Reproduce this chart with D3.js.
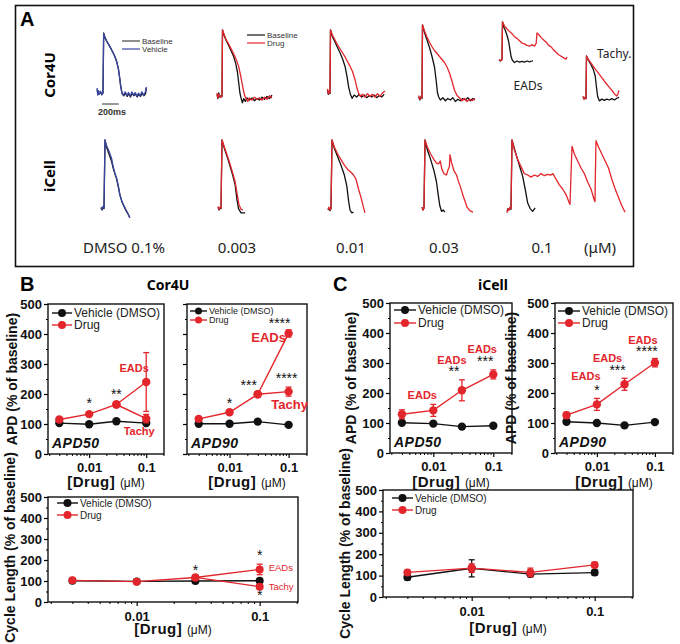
<!DOCTYPE html>
<html><head><meta charset="utf-8">
<script src="https://cdn.jsdelivr.net/npm/d3@7"></script>
<style>body{margin:0;background:#fff}svg{display:block}</style>
</head><body>
<svg id="fig" width="680" height="644"></svg>
<script>
// ---------------- DATA ----------------
const concentrations = [0.003, 0.01, 0.03, 0.1];
const xMajorTicks = [0.01, 0.1];
const yTicks = [0, 100, 200, 300, 400, 500];
const panelAConcLabels = ["DMSO 0.1%", "0.003", "0.01", "0.03", "0.1", "(\u03bcM)"];

// Panel B  (Cor4U)
const b50Vehicle = [103, 99, 109, 103];
const b50VehicleErr = [4, 3, 4, 4];
const b50Drug = [115, 133, 165];
const b50DrugErr = [6, 5, 8];
const b50EADs = [240, 98];
const b50Tachy = [118, 14];

const b90Vehicle = [101, 101, 108, 97];
const b90VehicleErr = [4, 4, 4, 4];
const b90Drug = [117, 139, 199];
const b90DrugErr = [6, 6, 8];
const b90EADs = [402, 12];
const b90Tachy = [208, 15];

const bCLVehicle = [101, 98, 100, 101];
const bCLVehicleErr = [5, 3, 5, 5];
const bCLDrug = [103, 97, 117];
const bCLDrugErr = [5, 4, 8];
const bCLEADs = [155, 25];
const bCLTachy = [73, 10];

// Panel C  (iCell)
const c50Vehicle = [101, 98, 88, 91];
const c50VehicleErr = [4, 4, 4, 4];
const c50Drug = [129, 142, 209, 262];
const c50DrugErr = [15, 20, 35, 15];

const c90Vehicle = [104, 100, 92, 103];
const c90VehicleErr = [4, 4, 4, 4];
const c90Drug = [126, 162, 229, 301];
const c90DrugErr = [10, 20, 20, 14];

const cCLVehicle = [92, 134, 107, 114];
const cCLVehicleErr = [12, 40, 12, 12];
const cCLDrug = [115, 135, 115, 150];
const cCLDrugErr = [7, 20, 20, 12];

// Panel A traces: [time ms, % amplitude]
const cor4uDmsoBaseline = [[-70,12],[-62,4],[-55,9],[-45,5],[-30,8],[-15,4],[0,6],[8,100],[25,92],[50,86],[80,79],[110,72],[140,64],[165,55],[185,44],[200,30],[215,15],[230,5],[250,2],[270,6],[290,1],[310,5],[330,0],[350,6],[370,2],[390,5],[410,0],[430,4],[450,1],[470,6],[490,2],[510,5],[520,14]];
const cor4uDmsoVehicle = [[-70,14],[-63,3],[-54,10],[-44,4],[-30,9],[-14,3],[0,7],[8,99],[22,94],[45,87],[75,81],[105,73],[135,66],[160,57],[182,46],[198,32],[212,17],[228,6],[246,3],[266,8],[286,2],[306,7],[326,1],[346,8],[366,3],[386,7],[406,1],[426,6],[446,2],[466,8],[486,3],[506,7],[520,16]];
const cor4u003Baseline = [[-60,8],[-50,2],[-40,10],[-25,4],[-10,6],[0,5],[6,100],[25,92],[50,85],[80,78],[110,70],[140,62],[165,52],[185,40],[200,25],[215,10],[230,2],[245,-4],[260,2],[280,-2],[300,3],[330,0],[360,3],[390,-1],[420,2],[450,0],[480,4],[510,1],[540,5],[570,2],[600,7]];
const cor4u003Drug = [[-60,10],[-50,3],[-40,8],[-25,5],[-10,4],[0,6],[6,100],[25,94],[50,86],[80,80],[110,73],[140,66],[170,58],[200,48],[225,34],[250,18],[270,7],[290,2],[310,-2],[330,3],[360,0],[390,4],[420,1],[450,3],[480,0],[510,4],[540,1],[570,6],[600,3]];
const cor4u01Baseline = [[-30,10],[-20,4],[-10,8],[0,5],[6,100],[30,90],[60,82],[90,74],[120,66],[150,57],[180,46],[205,30],[225,14],[245,4],[265,-2],[290,3],[320,0],[350,4],[380,0],[410,3],[440,-1],[470,2],[500,0],[530,3],[560,-1],[590,2],[620,0],[650,4]];
const cor4u01Drug = [[-30,12],[-20,5],[-10,9],[0,6],[6,100],[30,92],[60,85],[90,78],[120,72],[150,66],[180,60],[210,53],[240,46],[270,38],[300,26],[325,13],[345,5],[365,1],[390,4],[420,0],[450,5],[480,1],[510,4],[540,0],[570,5],[600,1],[630,6],[660,9]];
const cor4u03Baseline = [[-40,4],[-25,0],[-10,5],[0,2],[6,100],[30,90],[60,80],[90,70],[120,58],[150,44],[170,26],[185,10],[200,4],[220,0],[250,3],[280,-1],[310,2],[340,0],[370,3],[400,-2],[430,1],[460,-1],[490,2],[520,0],[550,3],[580,-1],[610,2],[636,0]];
const cor4u03Drug = [[-40,6],[-25,1],[-10,4],[0,3],[6,100],[30,92],[60,84],[90,77],[120,71],[150,66],[180,62],[210,58],[240,54],[270,50],[300,44],[330,36],[360,25],[390,13],[420,6],[450,3],[480,-1],[510,2],[540,-2],[570,1],[600,-1],[636,2]];
const cor4u1Baseline = [[-36,2],[-20,0],[0,3],[6,100],[20,88],[40,78],[60,66],[80,50],[95,30],[110,10],[125,2],[150,-4],[180,0],[210,-3],[240,-1],[270,-3],[300,0],[330,-2],[360,0],[372,1]];
const cor4u1Drug = [[-36,4],[-20,1],[0,3],[6,100],[30,90],[60,82],[90,76],[120,70],[150,62],[180,58],[210,52],[240,46],[270,44],[300,40],[330,38],[360,42],[390,38],[410,45],[420,72],[440,68],[470,60],[500,54],[530,48],[560,40],[590,36],[620,28],[650,22],[680,16],[710,12],[740,8],[770,5],[780,10]];
const cor4uTachyBaseline = [[-36,8],[-24,2],[-12,6],[0,3],[6,100],[30,90],[60,80],[90,68],[110,55],[125,30],[140,8],[160,-2],[190,2],[220,-1],[250,2],[280,0],[310,3],[340,0],[370,4],[396,6]];
const cor4uTachyDrug = [[-36,8],[-24,2],[-12,6],[0,3],[6,100],[30,92],[60,84],[90,76],[120,68],[150,61],[180,53],[210,46],[240,38],[270,31],[300,24],[330,17],[350,12],[370,9],[385,15],[396,22]];

const icellDmsoBaseline = [[-36,3],[-24,0],[-12,4],[0,2],[12,100],[30,90],[60,80],[90,70],[110,60],[130,52],[150,45],[170,34],[190,22],[215,12],[240,5],[265,-1],[290,-6],[310,-11]];
const icellDmsoVehicle = [[-36,4],[-24,1],[-12,5],[0,3],[12,100],[30,92],[60,84],[90,74],[110,62],[130,53],[150,46],[170,36],[190,22],[215,12],[240,6],[265,0],[290,-6],[310,-11]];
const icell003Baseline = [[-36,4],[-24,0],[-12,3],[0,2],[12,100],[40,88],[80,74],[110,62],[140,50],[170,36],[190,16],[210,2],[240,-4],[290,-4]];
const icell003Drug = [[-36,5],[-24,1],[-12,4],[0,3],[12,100],[40,90],[80,76],[110,65],[140,53],[170,40],[195,22],[215,8],[240,1],[265,0]];
const icell01Baseline = [[-36,0],[-24,3],[-12,-1],[0,2],[12,100],[40,88],[80,76],[120,64],[160,50],[190,34],[210,14],[228,0],[250,-4],[270,-3]];
const icell01Drug = [[-36,1],[-24,4],[-12,0],[0,3],[12,100],[40,90],[80,80],[120,72],[160,64],[200,58],[240,54],[270,50],[300,44],[330,30],[360,18],[385,6],[408,-4]];
const icell03Baseline = [[-24,4],[-12,0],[0,3],[12,100],[40,86],[80,72],[120,56],[150,40],[170,22],[190,6],[210,-2],[230,0],[250,-3]];
const icell03Drug = [[-24,4],[-12,0],[0,3],[12,100],[40,90],[80,80],[120,72],[150,67],[175,66],[195,70],[215,58],[240,52],[270,50],[290,58],[305,62],[312,79],[330,68],[360,56],[390,50],[408,43],[440,32],[470,20],[500,10],[516,4],[550,-1],[588,-3]];
const icell1Baseline = [[-48,-2],[-36,2],[-24,0],[-12,3],[0,1],[12,100],[40,88],[80,72],[110,60],[140,48],[170,30],[200,10],[230,2],[260,-2],[290,3]];
const icell1Drug = [[-48,-4],[-36,2],[-24,0],[-12,4],[0,2],[12,100],[40,86],[80,72],[120,62],[160,52],[200,50],[240,47],[280,50],[320,48],[360,52],[400,49],[440,51],[480,50],[504,52],[540,44],[580,36],[620,30],[660,22],[700,10],[708,8],[720,50],[732,91],[760,80],[800,70],[840,60],[880,52],[920,40],[960,30],[1000,14],[1008,12],[1014,60],[1020,99],[1050,90],[1090,80],[1130,70],[1170,60],[1210,44],[1250,30],[1290,18],[1330,6],[1368,-3]];

// ---------------- DRAW ----------------
const svg = d3.select("#fig");
const RED = "#e3262b", BLUE = "#3a47a3", BLACK = "#111";
const ARIAL = "'Liberation Sans', Arial, sans-serif";
const SANS = "'Noto Sans', 'Open Sans', sans-serif";

// ===== Panel A =====
svg.append("rect").attr("x", 15.5).attr("y", 5.5).attr("width", 618).attr("height", 261)
  .attr("fill", "none").attr("stroke", "#111").attr("stroke-width", 1.6);
svg.append("text").attr("x", 20).attr("y", 26).text("A")
  .attr("font-family", ARIAL).attr("font-weight", "bold").attr("font-size", 20);
[["Cor4U", 75], ["iCell", 176]].forEach(([t, cy]) => {
  svg.append("text").attr("transform", `translate(55,${cy}) rotate(-90)`).attr("text-anchor", "middle")
    .attr("font-family", SANS).attr("font-weight", "bold").attr("font-size", 15).text(t);
});
const concX = [124, 237, 351, 444, 542, 600];
panelAConcLabels.forEach((t, i) => {
  svg.append("text").attr("x", concX[i]).attr("y", 253).attr("text-anchor", "middle")
    .attr("font-family", SANS).attr("font-size", 15).attr("fill", "#222").text(t);
});

const msPerPx = 12;
function drawCell(x0, y0, amp, traces) {
  const xs = d3.scaleLinear().domain([0, msPerPx * 100]).range([x0, x0 + 100]);
  const ys = d3.scaleLinear().domain([0, 100]).range([y0, y0 - amp]);
  const line = d3.line().x(d => xs(d[0])).y(d => ys(d[1]));
  traces.forEach(([data, color]) => {
    svg.append("path").attr("d", line(data)).attr("fill", "none")
      .attr("stroke", color).attr("stroke-width", 1.3).attr("stroke-linejoin", "round");
  });
}
drawCell(103, 97, 64, [[cor4uDmsoBaseline, BLACK], [cor4uDmsoVehicle, BLUE]]);
drawCell(222, 100, 70, [[cor4u003Baseline, BLACK], [cor4u003Drug, RED]]);
drawCell(330, 97, 67, [[cor4u01Baseline, BLACK], [cor4u01Drug, RED]]);
drawCell(422, 100, 75, [[cor4u03Baseline, BLACK], [cor4u03Drug, RED]]);
drawCell(502, 61, 39, [[cor4u1Baseline, BLACK], [cor4u1Drug, RED]]);
drawCell(586, 100, 44, [[cor4uTachyBaseline, BLACK], [cor4uTachyDrug, RED]]);
drawCell(104, 210, 70, [[icellDmsoBaseline, BLACK], [icellDmsoVehicle, BLUE]]);
drawCell(221, 210, 70, [[icell003Baseline, BLACK], [icell003Drug, RED]]);
drawCell(331, 210, 70, [[icell01Baseline, BLACK], [icell01Drug, RED]]);
drawCell(424, 210, 70, [[icell03Baseline, BLACK], [icell03Drug, RED]]);
drawCell(511, 210, 70, [[icell1Baseline, BLACK], [icell1Drug, RED]]);

// trace legends
function traceLegend(x, y, labels, colors) {
  labels.forEach((t, i) => {
    svg.append("line").attr("x1", x).attr("x2", x + 18).attr("y1", y + i * 8).attr("y2", y + i * 8)
      .attr("stroke", colors[i]).attr("stroke-width", 1.2);
    svg.append("text").attr("x", x + 20).attr("y", y + i * 8 + 3).attr("font-family", ARIAL)
      .attr("font-size", 8).attr("fill", "#333").text(t);
  });
}
traceLegend(122, 41, ["Baseline", "Vehicle"], ["#444", BLUE]);
traceLegend(247, 35, ["Baseline", "Drug"], ["#111", RED]);
svg.append("line").attr("x1", 102).attr("x2", 102 + 200 / msPerPx).attr("y1", 104).attr("y2", 104)
  .attr("stroke", "#555").attr("stroke-width", 1.2);
svg.append("text").attr("x", 98).attr("y", 115).attr("font-family", ARIAL).attr("font-weight", "bold")
  .attr("font-size", 9).attr("fill", "#333").text("200ms");
svg.append("text").attr("x", 528).attr("y", 90).attr("text-anchor", "middle").attr("font-family", SANS)
  .attr("font-size", 12).attr("fill", "#222").text("EADs");
svg.append("text").attr("x", 597).attr("y", 58).attr("font-family", SANS)
  .attr("font-size", 12).attr("fill", "#222").text("Tachy.");

// ===== Panel headers B / C =====
svg.append("text").attr("x", 20).attr("y", 291).text("B").attr("font-family", ARIAL).attr("font-weight", "bold").attr("font-size", 20);
svg.append("text").attr("x", 333).attr("y", 291).text("C").attr("font-family", ARIAL).attr("font-weight", "bold").attr("font-size", 20);
svg.append("text").attr("x", 168).attr("y", 290).attr("text-anchor", "middle").text("Cor4U").attr("font-family", SANS).attr("font-weight", "bold").attr("font-size", 14);
svg.append("text").attr("x", 493).attr("y", 290).attr("text-anchor", "middle").text("iCell").attr("font-family", SANS).attr("font-weight", "bold").attr("font-size", 14);

// ===== Charts =====
const xDomain = [0.0019, 0.205];
const minorX = [0.002,0.003,0.004,0.005,0.006,0.007,0.008,0.009,0.02,0.03,0.04,0.05,0.06,0.07,0.08,0.09,0.2];

function drawChart(cfg) {
  const g = svg.append("g");
  const x = d3.scaleLog().domain(xDomain).range([cfg.left, cfg.right]);
  const y = d3.scaleLinear().domain([0, 500]).range([cfg.bottom, cfg.top]);
  g.append("rect").attr("x", cfg.left).attr("y", cfg.top).attr("width", cfg.right - cfg.left)
    .attr("height", cfg.bottom - cfg.top).attr("fill", "none").attr("stroke", "#111").attr("stroke-width", 1.4);
  const ya = g.append("g").attr("transform", `translate(${cfg.left},0)`)
    .call(d3.axisLeft(y).tickValues(yTicks).tickSize(4).tickPadding(2).tickFormat(cfg.yLabels ? d3.format("d") : ""));
  ya.select(".domain").remove();
  ya.selectAll("text").attr("font-family", ARIAL).attr("font-weight", "bold").attr("font-size", cfg.tickFont || 13).attr("fill", "#111");
  ya.selectAll("line").attr("stroke-width", 1.2);
  const yam = g.append("g").attr("transform", `translate(${cfg.left},0)`)
    .call(d3.axisLeft(y).tickValues(d3.range(50, 500, 100)).tickSize(2).tickFormat(""));
  yam.select(".domain").remove();
  const xa = g.append("g").attr("transform", `translate(0,${cfg.bottom})`)
    .call(d3.axisBottom(x).tickValues(xMajorTicks).tickSize(4).tickPadding(cfg.xPad || 5).tickFormat(d3.format("")));
  xa.select(".domain").remove();
  xa.selectAll("text").attr("font-family", ARIAL).attr("font-weight", "bold").attr("font-size", cfg.tickFont || 13).attr("fill", "#111");
  xa.selectAll("line").attr("stroke-width", 1.2);
  const xam = g.append("g").attr("transform", `translate(0,${cfg.bottom})`)
    .call(d3.axisBottom(x).tickValues(minorX).tickSize(2).tickFormat(""));
  xam.select(".domain").remove();
  const xt = g.append("text").attr("x", (cfg.left + cfg.right) / 2 + (cfg.xTitleDx || 0)).attr("y", cfg.xTitleY)
    .attr("text-anchor", "middle").attr("font-family", ARIAL).attr("fill", "#111");
  xt.append("tspan").attr("font-weight", "bold").attr("font-size", cfg.xTitleFont || 15).attr("letter-spacing", 0.5).text("[Drug] ");
  xt.append("tspan").attr("font-size", (cfg.xTitleFont || 15) - 3).text("(\u03bcM)");
  if (cfg.yTitle) {
    g.append("text").attr("transform", `translate(${cfg.yTitleX},${(cfg.top + cfg.bottom) / 2 + (cfg.yTitleDy || 0)}) rotate(-90)`)
      .attr("text-anchor", "middle").attr("font-family", ARIAL).attr("font-weight", "bold")
      .attr("font-size", cfg.yTitleFont || 14).attr("fill", "#111").text(cfg.yTitle);
  }
  const line = d3.line().x(d => x(d[0])).y(d => y(d[1]));
  const r = cfg.r || 4.2;
  function errorBars(pts, color) {
    pts.forEach(p => {
      if (!p[2]) return;
      g.append("line").attr("x1", x(p[0])).attr("x2", x(p[0])).attr("y1", y(p[1] - p[2])).attr("y2", y(p[1] + p[2]))
        .attr("stroke", color).attr("stroke-width", 1.3);
      [p[1] - p[2], p[1] + p[2]].forEach(v => g.append("line").attr("x1", x(p[0]) - 3).attr("x2", x(p[0]) + 3)
        .attr("y1", y(v)).attr("y2", y(v)).attr("stroke", color).attr("stroke-width", 1.3));
    });
  }
  cfg.series.forEach(s => {
    s.paths.forEach(path => {
      g.append("path").attr("d", line(path)).attr("fill", "none").attr("stroke", s.color).attr("stroke-width", 1.4);
    });
    const pts = [];
    s.paths.forEach(path => path.forEach(p => pts.push(p)));
    errorBars(pts, s.color);
    g.selectAll(null).data(pts).enter().append("circle").attr("cx", d => x(d[0])).attr("cy", d => y(d[1]))
      .attr("r", r).attr("fill", s.color);
  });
  const L = cfg.legend;
  [["Vehicle (DMSO)", BLACK], ["Drug", RED]].forEach(([t, c], i) => {
    const yy = L.y + i * L.dy;
    g.append("line").attr("x1", L.x).attr("x2", L.x + L.w).attr("y1", yy).attr("y2", yy).attr("stroke", c).attr("stroke-width", 1.4);
    g.append("circle").attr("cx", L.x + L.w / 2).attr("cy", yy).attr("r", L.r || 4).attr("fill", c);
    g.append("text").attr("x", L.x + L.w + 2).attr("y", yy + L.font * 0.36).attr("font-family", ARIAL)
      .attr("font-size", L.font).attr("fill", "#222").text(t);
  });
  (cfg.notes || []).forEach(n => {
    const isStar = /^\*+$/.test(n[2]);
    g.append("text").attr("x", x(n[0]) + (n[5] || 0)).attr("y", y(n[1])).attr("text-anchor", n[4] || "middle")
      .attr("font-family", ARIAL).attr("font-weight", (n[3] === RED && !cfg.plainNotes) ? "bold" : "normal")
      .attr("font-size", isStar ? (cfg.starFont || 14) : (cfg.noteFont || 11))
      .attr("fill", n[3]).text(n[2]);
  });
  if (cfg.tag) {
    g.append("text").attr("x", cfg.left + 4).attr("y", cfg.bottom - 6).attr("font-family", ARIAL)
      .attr("font-weight", "bold").attr("font-style", "italic").attr("font-size", 14).attr("letter-spacing", 0.5)
      .attr("fill", "#111").text(cfg.tag);
  }
}

const c = concentrations;
const withErr = (vals, errs) => vals.map((v, i) => [c[i], v, errs[i]]);

drawChart({
  left: 48, right: 164, top: 304, bottom: 454, yLabels: true, yTitle: "APD (% of baseline)", yTitleX: 17,
  xTitleY: 487, tag: "APD50",
  legend: { x: 52, y: 313, dy: 12, w: 20, font: 12 },
  series: [
    { color: BLACK, paths: [withErr(b50Vehicle, b50VehicleErr)] },
    { color: RED, paths: [withErr(b50Drug, b50DrugErr).concat([[c[3], b50EADs[0], b50EADs[1]]]),
                         [[c[2], b50Drug[2], 0], [c[3], b50Tachy[0], b50Tachy[1]]]] }
  ],
  notes: [[0.01, 155, "*", BLACK], [0.03, 185, "**", BLACK], [0.1, 275, "EADs", RED, "middle", -12],
          [0.1, 62, "Tachy", RED, "middle", -7]]
});
drawChart({
  left: 187, right: 307, top: 304, bottom: 454, yLabels: false,
  xTitleY: 487, tag: "APD90",
  legend: { x: 190, y: 311, dy: 9, w: 17, font: 9, r: 3.5 },
  series: [
    { color: BLACK, paths: [withErr(b90Vehicle, b90VehicleErr)] },
    { color: RED, paths: [withErr(b90Drug, b90DrugErr).concat([[c[3], b90EADs[0], b90EADs[1]]]),
                         [[c[2], b90Drug[2], 0], [c[3], b90Tachy[0], b90Tachy[1]]]] }
  ],
  notes: [[0.01, 155, "*", BLACK], [0.03, 213, "***", BLACK, "middle", -9], [0.1, 420, "****", BLACK, "middle", -9],
          [0.1, 372, "EADs", RED, "middle", -20], [0.1, 238, "****", BLACK, "middle", -2],
          [0.1, 150, "Tachy", RED, "middle", 1]],
  noteFont: 13
});
drawChart({
  left: 390, right: 512, top: 303, bottom: 453, yLabels: true, yTitle: "APD (% of baseline)", yTitleX: 356,
  xTitleY: 487, tag: "APD50",
  legend: { x: 394, y: 310, dy: 13, w: 22, font: 12 },
  series: [
    { color: BLACK, paths: [withErr(c50Vehicle, c50VehicleErr)] },
    { color: RED, paths: [withErr(c50Drug, c50DrugErr)] }
  ],
  notes: [[0.01, 180, "EADs", RED, "middle", -11], [0.03, 298, "EADs", RED, "middle", -10],
          [0.03, 258, "**", BLACK, "middle", -8], [0.1, 333, "EADs", RED, "middle", -11],
          [0.1, 290, "***", BLACK, "middle", -8]]
});
drawChart({
  left: 555, right: 673, top: 303, bottom: 453, yLabels: true, yTitle: "APD (% of baseline)", yTitleX: 516,
  xTitleY: 487, tag: "APD90",
  legend: { x: 558, y: 311, dy: 12, w: 22, font: 12 },
  series: [
    { color: BLACK, paths: [withErr(c90Vehicle, c90VehicleErr)] },
    { color: RED, paths: [withErr(c90Drug, c90DrugErr)] }
  ],
  notes: [[0.01, 243, "EADs", RED, "middle", -11], [0.01, 195, "*", BLACK], [0.03, 303, "EADs", RED, "middle", -17],
          [0.03, 260, "***", BLACK, "middle", -7], [0.1, 363, "EADs", RED, "middle", -12],
          [0.1, 325, "****", BLACK, "middle", -8]]
});
drawChart({
  left: 48, right: 298, top: 497, bottom: 602, yLabels: true, yTitle: "Cycle Length (% of baseline)", yTitleX: 15, yTitleDy: -2,
  xTitleY: 634, xPad: 6, r: 4, tickFont: 13, plainNotes: true,
  legend: { x: 57, y: 503, dy: 12, w: 21, font: 10 },
  series: [
    { color: BLACK, paths: [withErr(bCLVehicle, bCLVehicleErr)] },
    { color: RED, paths: [withErr(bCLDrug, bCLDrugErr).concat([[c[3], bCLEADs[0], bCLEADs[1]]]),
                         [[c[2], bCLDrug[2], 0], [c[3], bCLTachy[0], bCLTachy[1]]]] }
  ],
  notes: [[0.03, 128, "*", BLACK], [0.1, 200, "*", BLACK], [0.1, 8, "*", BLACK],
          [0.1, 150, "EADs", RED, "start", 9], [0.1, 58, "Tachy", RED, "start", 9]],
  noteFont: 9.5, starFont: 14
});
drawChart({
  left: 383, right: 633, top: 490, bottom: 597, yLabels: true, yTitle: "Cycle Length (% of baseline)", yTitleX: 350,
  xTitleY: 633, xPad: 6, r: 4, tickFont: 13,
  legend: { x: 392, y: 498, dy: 12, w: 21, font: 10 },
  series: [
    { color: BLACK, paths: [withErr(cCLVehicle, cCLVehicleErr)] },
    { color: RED, paths: [withErr(cCLDrug, cCLDrugErr)] }
  ]
});
</script>
</body></html>
